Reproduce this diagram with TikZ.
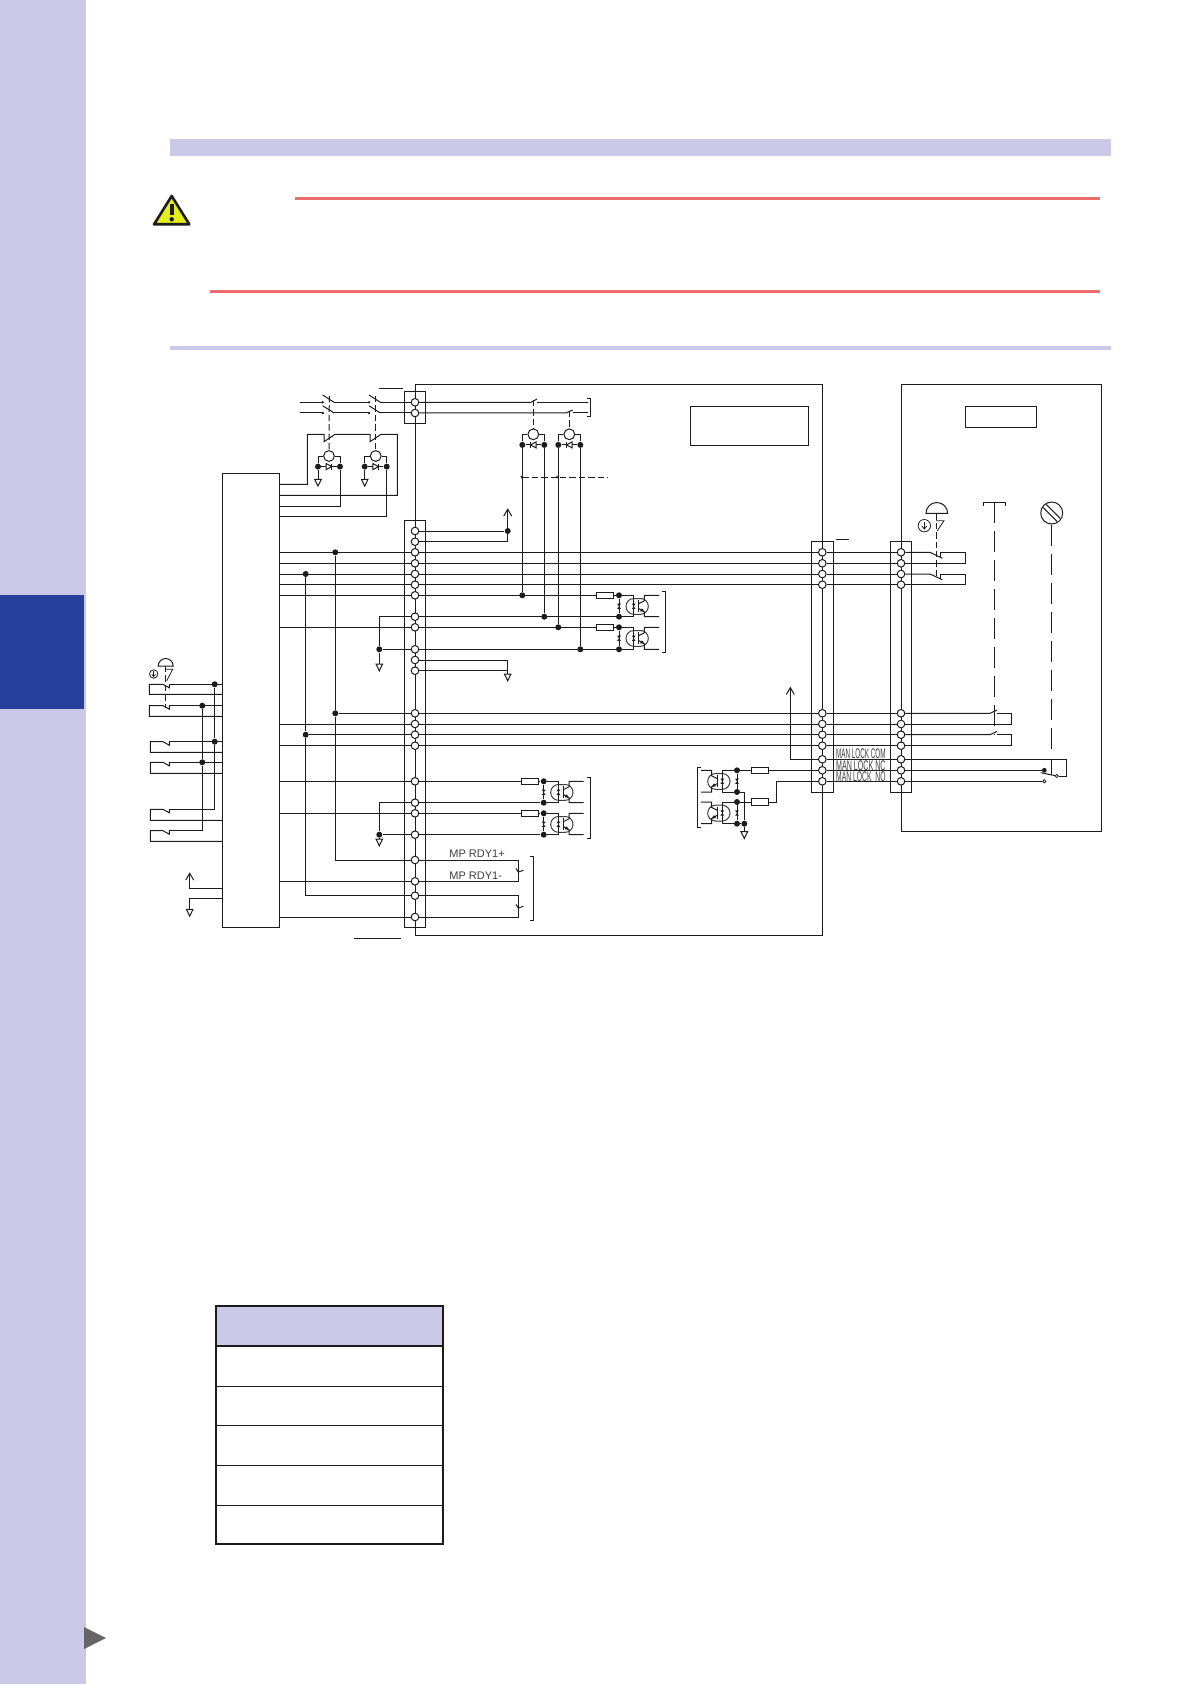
\documentclass[tikz,border=0pt]{standalone}
\usepackage{fontspec}
\setmainfont{Liberation Sans}
\usetikzlibrary{arrows.meta}
\definecolor{ink}{HTML}{1C1C1C}
\definecolor{lav}{HTML}{CBC9E8}
\definecolor{tab}{HTML}{26409B}
\definecolor{redl}{HTML}{EE6B6E}
\definecolor{warn}{HTML}{E3EE1C}
\tikzset{%
  wire/.style={color=ink,line width=.5pt},
  term/.style={circle,draw=ink,line width=.5pt,fill=white,inner sep=0,minimum size=3.8pt},
  dot/.style={circle,fill=ink,inner sep=0,minimum size=3pt},
  pin/.style={circle,draw=ink,line width=.4pt,fill=white,inner sep=0,minimum size=1.6pt},
  coilc/.style={circle,draw=ink,line width=.5pt,fill=white,inner sep=0,minimum size=5.4pt},
  res/.style={rectangle,draw=ink,line width=.5pt,fill=white,inner sep=0,minimum width=8.7pt,minimum height=3.2pt},
  dashln/.style={wire,dash pattern=on 3.2pt off 1.5pt},
  longln/.style={wire,dash pattern=on 10.5pt off 4pt},
  arrowln/.style={wire,-{Straight Barb[length=3.4pt,width=4pt]}},
  lbl/.style={font=\fontsize{5.5}{6}\selectfont,color=ink!85,inner sep=0},
  lock/.style={font=\fontsize{7}{8}\selectfont,color=ink!85,inner sep=0,anchor=west}
}
% ground triangle, name x y
\newcommand{\gnd}[3]{%
  \coordinate (#1) at (#2,#3);
  \draw[wire,fill=white] (#1) ++(-3.3,0) -- ++(6.6,0) -- ++(-3.3,6.8) -- cycle;
}
% small back-to-back diodes
\newcommand{\tie}[2]{%
  \fill[ink] (#1-1.9,#2-2.6) -- (#1+1.9,#2-2.6) -- (#1-1.9,#2+2.6) -- (#1+1.9,#2+2.6) -- cycle;
}
% relay coil with diode, name x y direction
\newcommand{\coil}[4]{%
  \begin{scope}[shift={(#2,#3)}]
    \node[coilc] (#1) at (0,0) {};
    \node[dot] (#1l) at (-11,10.6) {};
    \node[dot] (#1r) at (11,10.6) {};
    \draw[wire] (#1l) |- (#1);
    \draw[wire] (#1r) |- (#1);
    \draw[wire] (#1l) -- (#1r);
    \draw[wire,fill=white,xscale=#4] (-2.8,7.6) -- (2.8,10.6) -- (-2.8,13.6) -- cycle;
    \draw[wire,xscale=#4] (2.8,7.6) -- (2.8,13.6);
  \end{scope}
}
% optocoupler, name x y height direction wire end
\newcommand{\opto}[6]{%
  \begin{scope}[shift={(#2,#3)},xscale=#5]
    \node[dot] (#1t) at (0,0) {};
    \node[dot] (#1b) at (0,#4) {};
    \draw[wire] (#1t) -- (#1b);
    \tie{0}{11}
    \draw[color=ink!85,line width=.5pt,rounded corners=3.9pt] (7,3.2) rectangle (29.3,19);
    \draw[wire] (#1t) -- (14.7,0) -- (14.7,#4);
    \draw[wire] (#1b) -- (14.7,#4);
    \tie{14.7}{11}
    \draw[wire] (19.3,4.5) -- (19.3,17);
    \draw[wire] (#6,0) -- (25.3,0) -- (25.3,5.5) -- (19.3,8.5);
    \draw[wire] (19.3,13) -- (25.3,16.5) -- (25.3,#4) -- (#6,#4);
    \fill[ink] (25.3,16.5) -- (21,16) -- (23,13) -- cycle;
  \end{scope}
}
% switch on the left, name x top bottom
\newcommand{\nc}[4]{%
  \coordinate (#1) at (169.3,#3);
  \draw[wire] (#1) -- ++(0,3.5) -- (163,#3) -- (#2,#3) -- (#2,#4) -- (ctrl.west|-0,#4);
}
% bracket, x top bottom tick
\newcommand{\brk}[4]{%
  \draw[wire] (#1+#4,#2) -- (#1,#2) -- (#1,#3) -- (#1+#4,#3);
}
\begin{document}
\begin{tikzpicture}[x=.5pt,y=-.5pt]
  \useasboundingbox (0,0) rectangle (1191,1684);

  % page
  \fill[lav] (0,0) rectangle (86,1684);
  \fill[tab] (0,595) rectangle (84,709);
  \fill[black!60] (84,1627) -- (106,1638) -- (84,1649) -- cycle;
  \fill[lav] (170,139) rectangle (1111,156);
  \fill[lav] (170,346) rectangle (1111,350);
  \fill[redl] (295,197) rectangle (1100,200);
  \fill[redl] (210,290) rectangle (1100,293);

  % warning sign
  \draw[ink,fill=warn,line width=1.3pt,line join=round] (171.7,196) -- (189.3,224.3) -- (154.1,224.3) -- cycle;
  \draw[ink,line width=1.9pt] (171.7,204) -- (171.7,215);
  \fill[ink] (171.7,219.3) circle (2.2);

  % table
  \fill[lav] (216,1306) rectangle (443,1346);
  \foreach \y in {1386,1425,1465,1505}
    \draw[wire] (216,\y) -- (443,\y);
  \draw[ink,line width=1pt] (216,1346) -- (443,1346);
  \draw[ink,line width=.8pt] (216,1306) rectangle (443,1544);

  % boxes
  \node[draw=ink,line width=.5pt,inner sep=0,minimum width=28.5pt,minimum height=226.85pt] (ctrl) at (250.8,700.2) {};
  \draw[wire] (415,384.3) rectangle (822.3,935.3);
  \draw[wire] (901,384.3) rectangle (1101.7,831.3);
  \draw[wire] (690.3,406.3) rectangle (808.3,445.3);
  \draw[wire] (965.3,406.3) rectangle (1036.7,427.3);
  \draw[wire] (404.3,391.3) rectangle (425.3,423.3);
  \draw[wire] (404.3,520.3) rectangle (425.3,927);
  \draw[wire] (811.3,541) rectangle (833.3,792.3);
  \draw[wire] (890.3,541) rectangle (911.3,792.3);

  % overbars
  \draw[wire] (379.3,388.3) -- (403.3,388.3);
  \draw[wire] (354,938.3) -- (400.7,938.3);
  \draw[wire] (835.7,539) -- (849,539);

  % terminals
  \node[term] (u1) at (415,402.3) {};
  \node[term] (u2) at (415,413) {};
  \foreach \n/\y in {1/531,2/541.7,3/552.3,4/563.3,5/574,6/584.7,7/595.3,8/616.7,9/627.3,10/649.3,
      11/660,12/670.7,13/713.3,14/724,15/734.7,16/745.7,17/781.3,18/802.7,19/813.3,20/834.7,
      21/860,22/881.3,23/895.7,24/917}
    \node[term] (l\n) at (415,\y) {};
  \foreach \n/\y in {1/552.3,2/563.3,3/574,4/584.7,5/713.3,6/724,7/734.7,8/745.7,9/759.3,10/770.3,11/781.3} {
    \node[term] (m\n) at (822.3,\y) {};
    \node[term] (r\n) at (901,\y) {};
  }

  % through wires
  \foreach \a/\b/\c in {3/1/1,4/2/2,5/3/3,6/4/4,13/5/5,14/6/6,15/7/7,16/8/8} {
    \draw[wire] (l\a) -- (m\b);
    \draw[wire] (m\b) -- (r\c);
  }
  \foreach \n in {9,10,11}
    \draw[wire] (m\n) -- (r\n);
  \foreach \n in {3,4,5,6,7,9,14,16,17,19,22,24}
    \draw[wire] (l\n) -- (l\n-|ctrl.east);

  % left verticals
  \coordinate (xa) at (335.3,0);
  \coordinate (xb) at (305.7,0);
  \coordinate (xc) at (379.3,0);
  \coordinate (xd) at (507.7,0);
  \node[dot] (j1) at (l3-|xa) {};
  \node[dot] (j2) at (l13-|xa) {};
  \node[dot] (j3) at (l5-|xb) {};
  \node[dot] (j4) at (l15-|xb) {};
  \node[dot] (j5) at (l10-|xc) {};
  \node[dot] (j6) at (l20-|xc) {};
  \node[dot] (j7) at (l1-|xd) {};
  \draw[wire] (j1) -- (j2) -- (l21-|xa) -- (l21);
  \draw[wire] (j2) -- (l13);
  \draw[wire] (j3) -- (j4) -- (l23-|xb) -- (l23);
  \draw[wire] (j4) -- (l15);
  \gnd{g1}{379.3}{664}
  \gnd{g2}{379.3}{839}
  \draw[wire] (l8) -- (l8-|xc) -- (j5) -- (g1);
  \draw[wire] (j5) -- (l10);
  \draw[wire] (l18) -- (l18-|xc) -- (j6) -- (g2);
  \draw[wire] (j6) -- (l20);

  % upper right of strip
  \coordinate (up1) at (507.7,508.3);
  \gnd{g3}{507.7}{674}
  \draw[wire] (l1) -- (j7);
  \draw[wire] (l2) -- (l2-|xd) -- (j7);
  \draw[arrowln] (j7) -- (up1);
  \draw[wire] (l11) -- (l11-|g3) -- (g3);
  \draw[wire] (l12) -- (l12-|g3);

  % mains switches
  \foreach \x in {0,46.3} {
    \foreach \y in {402.3,413} {
      \draw[wire] (\x+300,\y) -- (\x+322,\y);
      \fill[ink] (\x+322.7,\y) circle (1.3);
      \draw[wire] (\x+322.7,\y-7.3) -- (\x+334,\y);
    }
    \draw[wire] (\x+334,402.3) -- (\x+357,402.3);
    \draw[wire] (\x+334,413) -- (\x+357,413);
  }
  \draw[wire] (380.3,402.3) -- (u1);
  \draw[wire] (380.3,413) -- (u2);

  % relay loop
  \coil{k1}{329}{456}{1}
  \coil{k2}{375.7}{456}{1}
  \coordinate (w1) at (279.3,484.3);
  \coordinate (w2) at (279.3,495.3);
  \coordinate (w3) at (279.3,506);
  \coordinate (w4) at (279.3,516.3);
  \draw[wire] (w1) -| (307.3,434.3) -- (324,434.3) -- ++(0,7.4) -- (335,434.3) -- (370,434.3)
    -- ++(0,7.4) -- (381,434.3) -- (397.3,434.3) |- (w2);
  \draw[wire] (w3) -| (k1r);
  \draw[wire] (w4) -| (k2r);
  \gnd{g4}{318}{479.3}
  \gnd{g5}{364.7}{479.3}
  \draw[wire] (k1l) -- (g4);
  \draw[wire] (k2l) -- (g5);
  \draw[dashln] (329.3,396) -- (k1);
  \draw[dashln] (375.7,396) -- (k2);

  % contacts in the unit
  \draw[wire] (u1) -- (531,402.3) -- (537,399);
  \draw[wire] (537,402.3) -- (587.7,402.3);
  \draw[wire] (u2) -- (566,413) -- (572.7,410);
  \draw[wire] (572.7,413) -- (587.7,413);
  \brk{590.7}{398.3}{416.7}{-3.5}
  \coil{k3}{533.3}{434.3}{-1}
  \coil{k4}{569.3}{434.3}{-1}
  \draw[dashln] (533.3,400) -- (k3);
  \draw[dashln] (569.3,411) -- (k4);
  \draw[dashln] (522.3,477.3) -- (608.3,477.3);
  \draw[wire] (520.7,475.8) -- (522.3,478.5);
  \draw[wire] (556.7,475.8) -- (558.3,478.5);

  % outputs
  \node[dot] (f1) at (k3l|-l7) {};
  \node[dot] (f2) at (k3r|-l8) {};
  \node[dot] (f3) at (k4l|-l9) {};
  \node[dot] (f4) at (k4r|-l10) {};
  \draw[wire] (k3l) -- (f1);
  \draw[wire] (k3r) -- (f2);
  \draw[wire] (k4l) -- (f3);
  \draw[wire] (k4r) -- (f4);
  \opto{a}{619}{595.3}{21.4}{1}{40}
  \opto{b}{619}{627.3}{22}{1}{40}
  \opto{c}{543.7}{781.3}{21.4}{1}{40}
  \opto{d}{543.7}{813.3}{21.4}{1}{40}
  \node[res] (ra) at (605,595.3) {};
  \node[res] (rb) at (605,627.3) {};
  \node[res] (rc) at (530,781.3) {};
  \node[res] (rd) at (530,813.3) {};
  \draw[wire] (l7) -- (ra);
  \draw[wire] (ra) -- (at);
  \draw[wire] (l8) -- (ab);
  \draw[wire] (l9) -- (rb);
  \draw[wire] (rb) -- (bt);
  \draw[wire] (l10) -- (bb);
  \draw[wire] (l17) -- (rc);
  \draw[wire] (rc) -- (ct);
  \draw[wire] (l18) -- (cb);
  \draw[wire] (l19) -- (rd);
  \draw[wire] (rd) -- (dt);
  \draw[wire] (l20) -- (db);
  \brk{665.3}{591}{652.3}{-3.5}
  \brk{590.3}{777.3}{838.3}{-3.5}

  % ready contacts
  \coordinate (c1) at (518.3,860);
  \coordinate (c2) at (518.3,895.7);
  \draw[wire] (l21) -- (c1) -- (c1|-l22) -- (l22);
  \draw[wire] (l23) -- (c2) -- (c2|-l24) -- (l24);
  \draw[wire] (516,868.5) -- (518.3,872) -- (523.5,870.3);
  \draw[wire] (516,904.5) -- (518.3,908) -- (523.5,906.3);
  \brk{533.3}{856.7}{920}{-3.5}
  \node[lbl,anchor=base west] (rdyp) at (449,857.5) {MP RDY1+};
  \node[lbl,anchor=base west] (rdym) at (449,879.5) {MP RDY1-};

  % outputs on the right
  \opto{e}{737}{770.3}{21.7}{-1}{36}
  \opto{h}{737}{802}{21.7}{-1}{36}
  \node[res] (re) at (760,770.3) {};
  \node[res] (rh) at (760,802) {};
  \coordinate (k5) at (776,781.3);
  \coordinate (up2) at (790.3,686.7);
  \node[dot] (j8) at (744.3,823.7) {};
  \gnd{g6}{744.3}{831.7}
  \draw[wire] (m10) -- (re);
  \draw[wire] (re) -- (et);
  \draw[wire] (m11) -- (k5) |- (rh);
  \draw[wire] (rh) -- (ht);
  \draw[wire] (eb) -| (j8);
  \draw[wire] (hb) -- (j8) -- (g6);
  \draw[arrowln] (m9) -| (up2);
  \brk{697.3}{767.3}{827.3}{3.5}

  \node[lock,xscale=.45] (lock1) at (836,754) {MAN LOCK COM};
  \node[lock,xscale=.508] (lock2) at (836,765.3) {MAN LOCK NC};
  \node[lock,xscale=.484] (lock3) at (836,776.3) {MAN LOCK\ \ NO};

  % panel: emergency stop
  \draw[wire] (926,513.3) arc (180:360:10.8) -- cycle;
  \node[draw=ink,line width=.4pt,circle,inner sep=0,minimum size=6.2pt] (pe) at (924.3,525.7) {};
  \draw[wire,line width=.4pt,-{Straight Barb[length=1.5pt,width=2.4pt]}] (924.3,521.7) -- (924.3,529.7);
  \draw[wire,line width=.4pt] (936,520.7) -- (944,520.7) -- (937.3,530.7);
  \draw[dashln] (936.7,513.3) -- (936.7,578.3);
  \draw[wire] (r1) -- (930,552.3) -- (942.3,558.3);
  \draw[wire] (940,558) -- (940,552.3) -- (965.3,552.3) |- (r2);
  \draw[wire] (r3) -- (930,574) -- (942.3,579.7);
  \draw[wire] (940,579.4) -- (940,574) -- (965.3,574) |- (r4);

  % panel: T switch
  \draw[wire] (983.3,505.5) -- (983.3,502.3) -- (1005,502.3) -- (1005,505.5);
  \draw[longln] (994.3,502.3) -- (994.3,734.7);
  \draw[wire] (r5) -- (990,713.3) -- (997,710);
  \draw[wire] (997,713.3) -- (1011.7,713.3) |- (r6);
  \draw[wire] (r7) -- (990,734.7) -- (997,731.4);
  \draw[wire] (997,734.7) -- (1011.7,734.7) |- (r8);

  % panel: lock switch
  \node[draw=ink,line width=.5pt,circle,inner sep=0,minimum size=11pt] (lamp) at (1051.7,513) {};
  \draw[wire] (1046.35,504.55) -- (1060.15,518.35);
  \draw[wire] (1043.25,507.65) -- (1057.05,521.45);
  \coordinate (t1) at (1051.7,750.7);
  \draw[longln] (lamp) -- (t1);
  \node[dot,minimum size=2.4pt] (p1) at (1044.3,770.3) {};
  \node[pin] (p2) at (1044.3,781.3) {};
  \node[pin] (p3) at (1056.7,776) {};
  \coordinate (k6) at (1066,759.3);
  \draw[wire] (r9) -- (k6) |- (p3);
  \draw[wire] (r10) -- (p1);
  \draw[wire] (r11) -- (p2);
  \draw[wire] (1040.7,772.7) -- (p3);
  \draw[wire] (1051.7,759.3) -- (1051.7,775);

  % panel on the left
  \draw[wire] (158.2,666) arc (180:360:7.5) -- cycle;
  \node[draw=ink,line width=.4pt,circle,inner sep=0,minimum size=4.2pt] (pf) at (153.7,674) {};
  \draw[wire,line width=.35pt,-{Straight Barb[length=1pt,width=1.8pt]}] (153.7,671) -- (153.7,677);
  \draw[wire,line width=.4pt] (165,669.3) -- (172.7,669.3) -- (166.7,680.7);
  \draw[dashln] (165.7,666) -- (165.7,708);
  \nc{s1}{149.3}{684.3}{694.3}
  \nc{s2}{149.3}{705.7}{716.3}
  \nc{s3}{150.3}{741.7}{752.3}
  \nc{s4}{150.3}{762.3}{773.3}
  \nc{s5}{150.3}{809.3}{820.3}
  \nc{s6}{150.3}{830.7}{841.3}
  \foreach \n in {1,2,3,4}
    \draw[wire] (s\n) -- (s\n-|ctrl.west);
  \node[dot] (d1) at (214.7,684.3) {};
  \node[dot] (d2) at (214.7,741.7) {};
  \node[dot] (d3) at (202.3,705.7) {};
  \node[dot] (d4) at (202.3,762.3) {};
  \draw[wire] (d1) -- (d2) -- (d2|-s5) -- (s5);
  \draw[wire] (d3) -- (d4) -- (d4|-s6) -- (s6);
  \coordinate (up3) at (189.7,872.3);
  \coordinate (w5) at (222.3,888.3);
  \coordinate (w6) at (222.3,898.3);
  \gnd{g7}{189.7}{909.3}
  \draw[arrowln] (w5) -| (up3);
  \draw[wire] (w6) -| (g7);
\end{tikzpicture}
\end{document}
